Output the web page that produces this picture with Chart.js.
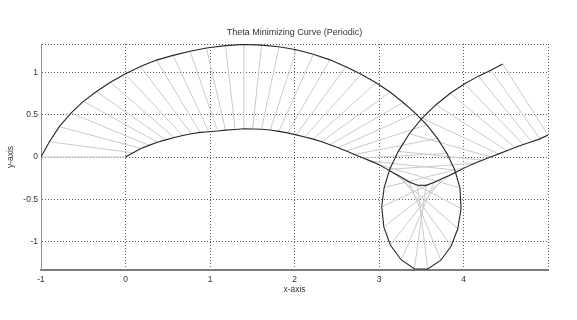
<!DOCTYPE html>
<html>
<head>
<meta charset="utf-8">
<script src="https://cdn.jsdelivr.net/npm/chart.js@4.4.0/dist/chart.umd.min.js"></script>
<style>
  html, body { margin: 0; padding: 0; background: #fff; }
  #wrap { width: 577px; height: 320px; }
</style>
</head>
<body>
<div id="wrap"><canvas id="chart" width="577" height="320"></canvas></div>
<script>
// Theta minimizing curve: inner curve, outer curve, and the unit "spokes" joining them
const chartTitle = 'Theta Minimizing Curve (Periodic)';
const xLabel = 'x-axis';
const yLabel = 'y-axis';

const innerX = [0.000, 0.091, 0.182, 0.279, 0.376, 0.476, 0.576, 0.677, 0.779, 0.882,
  0.986, 1.090, 1.183, 1.297, 1.400, 1.505, 1.609, 1.713, 1.816, 1.919,
  2.020, 2.121, 2.222, 2.322, 2.420, 2.518, 2.614, 2.710, 2.805, 2.902,
  2.997, 3.088, 3.178, 3.268, 3.357, 3.455, 3.557, 3.655, 3.750, 3.845,
  3.938, 4.031, 4.125, 4.222, 4.320, 4.416, 4.513, 4.610, 4.708, 4.806,
  4.905, 5.000];
const innerY = [0.000, 0.050, 0.101, 0.138, 0.175, 0.203, 0.231, 0.254, 0.275, 0.292,
  0.299, 0.308, 0.319, 0.327, 0.335, 0.332, 0.329, 0.321, 0.304, 0.286,
  0.262, 0.237, 0.212, 0.182, 0.146, 0.111, 0.072, 0.030, -0.010, -0.049,
  -0.090, -0.141, -0.192, -0.244, -0.297, -0.335, -0.336, -0.300, -0.256, -0.213,
  -0.166, -0.120, -0.076, -0.038, 0.000, 0.037, 0.075, 0.113, 0.149, 0.182,
  0.215, 0.260];

const outerX = [-1.000, -0.900, -0.784, -0.645, -0.499, -0.343, -0.179, -0.005, 0.177, 0.367,
  0.563, 0.764, 0.958, 1.184, 1.400, 1.610, 1.817, 2.022, 2.223, 2.419,
  2.608, 2.790, 2.965, 3.131, 3.286, 3.432, 3.565, 3.692, 3.804, 3.897,
  3.958, 3.971, 3.933, 3.856, 3.732, 3.577, 3.418, 3.264, 3.134, 3.057,
  3.032, 3.061, 3.127, 3.228, 3.359, 3.510, 3.674, 3.844, 4.013, 4.177,
  4.324, 4.463];
const outerY = [0.000, 0.181, 0.360, 0.521, 0.660, 0.777, 0.887, 0.985, 1.074, 1.149,
  1.205, 1.254, 1.293, 1.321, 1.335, 1.327, 1.307, 1.272, 1.218, 1.152,
  1.071, 0.980, 0.881, 0.770, 0.646, 0.518, 0.381, 0.221, 0.042, -0.154,
  -0.366, -0.611, -0.848, -1.053, -1.224, -1.328, -1.326, -1.221, -1.044, -0.829,
  -0.589, -0.362, -0.146, 0.067, 0.276, 0.460, 0.620, 0.756, 0.868, 0.959,
  1.029, 1.103];

const xMin = -1, xMax = 5;
const yMin = -1.34, yMax = 1.34;
const xTicks = [-1, 0, 1, 2, 3, 4, 5];
const yTicks = [-1.34, -1, -0.5, 0, 0.5, 1, 1.34];

const fontFamily = '"Liberation Sans", Arial, sans-serif';
const textColor = '#333';
const gridColor = '#5a5a5a';

function toPoints(xs, ys) {
    return xs.map((x, i) => ({ x: x, y: ys[i] }));
}

// one path with gaps: inner -> outer, then a null to break the line
const spokes = [];
innerX.forEach((x, i) => {
    spokes.push({ x: x, y: innerY[i] });
    spokes.push({ x: outerX[i], y: outerY[i] });
    spokes.push({ x: x, y: null });
});

const ctx = document.getElementById('chart').getContext('2d');
new Chart(ctx, {
    type: 'scatter',
    data: {
        datasets: [
            {
                data: toPoints(outerX, outerY),
                showLine: true,
                borderColor: '#262626',
                borderWidth: 1.1,
                pointRadius: 0,
                tension: 0,
                order: 0
            },
            {
                data: toPoints(innerX, innerY),
                showLine: true,
                borderColor: '#262626',
                borderWidth: 1.1,
                pointRadius: 0,
                tension: 0,
                order: 1
            },
            {
                data: spokes,
                showLine: true,
                spanGaps: false,
                borderColor: '#cacaca',
                borderWidth: 1,
                pointRadius: 0,
                tension: 0,
                order: 2
            }
        ]
    },
    options: {
        responsive: false,
        animation: false,
        devicePixelRatio: 1,
        layout: { padding: { left: 0, right: 29, top: 0, bottom: 0 } },
        plugins: {
            legend: { display: false },
            tooltip: { enabled: false },
            title: {
                display: true,
                text: chartTitle,
                fullSize: false,
                color: textColor,
                font: { family: fontFamily, size: 9, weight: 'normal' },
                padding: { top: 27, bottom: 6.2 }
            }
        },
        scales: {
            x: {
                type: 'linear',
                min: xMin,
                max: xMax,
                afterBuildTicks: (s) => { s.ticks = xTicks.map(v => ({ value: v })); },
                afterFit: (s) => { s.height = 50; },
                ticks: {
                    padding: 5,
                    color: textColor,
                    font: { family: fontFamily, size: 8.5 },
                    callback: (v) => (v === xMax ? '' : String(v))
                },
                grid: {
                    drawTicks: false,
                    lineWidth: 1,
                    color: (c) => (c.tick && c.tick.value === xMin ? 'rgba(0,0,0,0)' : gridColor)
                },
                border: { display: true, color: '#7c7c7c', width: 2, dash: [1, 2] },
                title: {
                    display: true,
                    text: xLabel,
                    color: textColor,
                    font: { family: fontFamily, size: 8.5 },
                    padding: { top: 0, bottom: 25 }
                }
            },
            y: {
                type: 'linear',
                min: yMin,
                max: yMax,
                afterBuildTicks: (s) => { s.ticks = yTicks.map(v => ({ value: v })); },
                afterFit: (s) => { s.width = 41; },
                ticks: {
                    padding: 3,
                    color: textColor,
                    font: { family: fontFamily, size: 8.5 },
                    callback: (v) => (v === yMin || v === yMax ? '' : String(v))
                },
                grid: {
                    drawTicks: false,
                    lineWidth: 1,
                    color: (c) => (c.tick && c.tick.value === yMin ? 'rgba(0,0,0,0)' : gridColor)
                },
                border: { display: true, color: '#909090', width: 1, dash: [1, 2] },
                title: {
                    display: true,
                    text: yLabel,
                    color: textColor,
                    font: { family: fontFamily, size: 8.5 },
                    padding: { top: 6, bottom: 0 }
                }
            }
        }
    }
});
</script>
</body>
</html>
